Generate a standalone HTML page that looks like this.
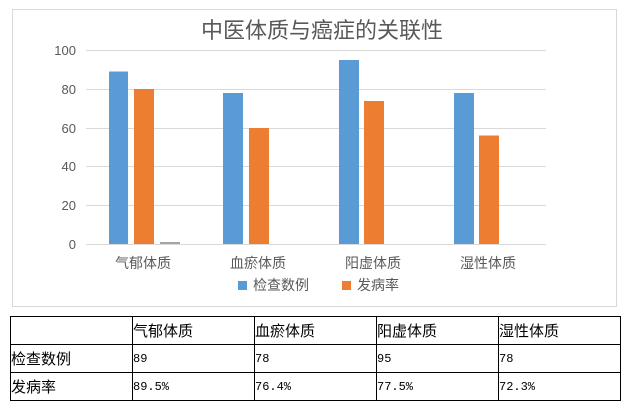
<!DOCTYPE html>
<html><head><meta charset="utf-8"><style>
html,body{margin:0;padding:0;background:#fff;width:629px;height:408px;overflow:hidden;font-family:"Liberation Sans","Noto Sans CJK SC",sans-serif;}
table{position:absolute;left:10px;top:316px;border-collapse:collapse;}
td{border:1.5px solid #000;height:27px;padding:0;font-size:15px;vertical-align:middle;color:#000;}
td.n{font-family:"Liberation Mono","Noto Sans CJK SC",monospace;font-size:12px;}
</style></head><body>
<svg width="629" height="408" style="position:absolute;left:0;top:0">
<rect x="12.5" y="9.5" width="604" height="297" fill="#fff" stroke="#d9d9d9"/>
<text x="322" y="38" text-anchor="middle" font-size="22" fill="#595959" font-family="Liberation Sans,Noto Sans CJK SC,sans-serif">中医体质与癌症的关联性</text>
<g stroke="#d9d9d9" stroke-width="1">
<line x1="86" x2="546" y1="50.5" y2="50.5"/><line x1="86" x2="546" y1="89.5" y2="89.5"/><line x1="86" x2="546" y1="128.5" y2="128.5"/><line x1="86" x2="546" y1="166.5" y2="166.5"/><line x1="86" x2="546" y1="205.5" y2="205.5"/><line x1="86" x2="546" y1="244.5" y2="244.5"/>
</g>
<g font-size="13" fill="#595959" text-anchor="end" font-family="Liberation Sans,sans-serif">
<text x="76" y="55">100</text><text x="76" y="94">80</text><text x="76" y="133">60</text><text x="76" y="171">40</text><text x="76" y="210">20</text><text x="76" y="249">0</text>
</g>
<g fill="#5b9bd5">
<rect x="109" y="71.5" width="19" height="172.5"/><rect x="223" y="93" width="20" height="151"/><rect x="339" y="60" width="20" height="184"/><rect x="454" y="93" width="20" height="151"/>
</g>
<g fill="#ed7d31">
<rect x="134" y="89" width="20" height="155"/><rect x="249" y="128" width="20" height="116"/><rect x="364" y="101" width="20" height="143"/><rect x="479" y="135.5" width="20" height="108.5"/>
</g>
<rect x="160" y="242" width="20" height="2" fill="#a5a5a5"/>
<g font-size="14" fill="#595959" text-anchor="middle" font-family="Liberation Sans,Noto Sans CJK SC,sans-serif">
<text x="143" y="268">气郁体质</text><text x="258" y="268">血瘀体质</text><text x="373" y="268">阳虚体质</text><text x="488" y="268">湿性体质</text>
</g>
<rect x="238" y="281" width="9" height="9" fill="#5b9bd5"/>
<text x="253" y="290" font-size="14" fill="#595959" font-family="Liberation Sans,Noto Sans CJK SC,sans-serif">检查数例</text>
<rect x="342" y="281" width="9" height="9" fill="#ed7d31"/>
<text x="357" y="290" font-size="14" fill="#595959" font-family="Liberation Sans,Noto Sans CJK SC,sans-serif">发病率</text>
</svg>
<table>
<tr><td style="width:121px"></td><td style="width:121px">气郁体质</td><td style="width:121px">血瘀体质</td><td style="width:121px">阳虚体质</td><td style="width:121px">湿性体质</td></tr>
<tr><td>检查数例</td><td class="n">89</td><td class="n">78</td><td class="n">95</td><td class="n">78</td></tr>
<tr><td>发病率</td><td class="n">89.5%</td><td class="n">76.4%</td><td class="n">77.5%</td><td class="n">72.3%</td></tr>
</table>
</body></html>
